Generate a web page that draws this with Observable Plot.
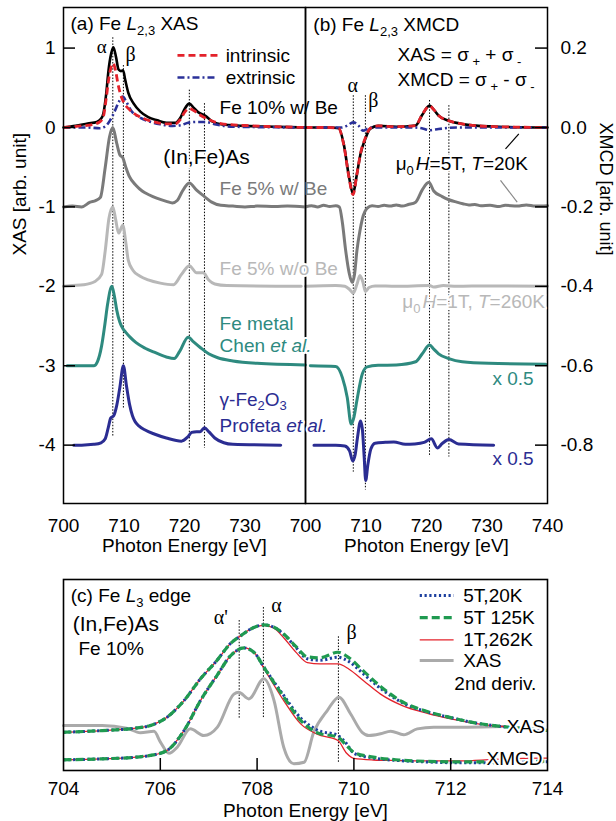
<!DOCTYPE html>
<html><head><meta charset="utf-8">
<script src="https://cdn.jsdelivr.net/npm/d3@7"></script>
<script src="https://cdn.jsdelivr.net/npm/@observablehq/plot@0.6"></script>
<style>
body{margin:0;background:#fff;}
#wrap{position:relative;width:616px;height:821px;background:#fff;overflow:hidden;}
#wrap > div{position:absolute;}
</style></head><body>
<div id="wrap"><div id="pb" style="left:305px;top:0"></div><div id="pa" style="left:0;top:0"></div><div id="pc" style="left:0;top:560px"></div></div>
<script>
// ---------------- tick labels ----------------
const xTicksA = [700, 710, 720, 730];
const xTicksB = [700, 710, 720, 730, 740];
const yTicksA = [1, 0, -1, -2, -3, -4];
const yTicksB = [0.2, 0, -0.2, -0.4, -0.6, -0.8];
const xTicksC = [704, 706, 708, 710, 712, 714];
const innerTicksC = [706, 708, 710, 712];

// ---------------- series offsets ----------------
const offsetsA = [0, -1, -2, -3, -4];
const offsetsB = [0, -0.2, -0.4, -0.6, -0.8];

// ---------------- (a) XAS spectra [eV, value above its baseline] ----------------
const xas10 = [[700,0],[702,0.02],[704,0.05],[705.5,0.07],[706.2,0.11],[706.6,0.18],[707.05,0.42],[707.44,0.72],[707.88,0.93],[708.25,1.01],[708.7,0.88],[709.1,0.73],[709.5,0.71],[709.85,0.72],[710.2,0.6],[710.7,0.44],[711.6,0.3],[712.7,0.2],[714,0.13],[715.5,0.09],[717,0.06],[718.5,0.06],[719.3,0.12],[720,0.23],[720.8,0.3],[721.5,0.25],[722.3,0.19],[723.4,0.15],[724.5,0.08],[726,0.04],[730,0.02],[735,0.01],[740,0]];
const xasIntr = [[700,0],[703,0.02],[705,0.04],[706,0.07],[706.6,0.14],[707.05,0.36],[707.5,0.62],[707.9,0.77],[708.2,0.81],[708.6,0.72],[709.0,0.55],[709.5,0.40],[710.0,0.31],[710.7,0.24],[711.6,0.18],[713,0.12],[715,0.07],[717,0.045],[718.5,0.045],[719.3,0.1],[720.1,0.2],[720.8,0.24],[721.6,0.21],[722.5,0.16],[724,0.1],[726,0.05],[730,0.025],[735,0.01],[740,0]];
const xasExtr = [[700,0],[704,0],[706,-0.01],[707,0.02],[707.7,0.09],[708.5,0.21],[709.2,0.33],[709.8,0.39],[710.4,0.32],[711.2,0.21],[712.3,0.14],[714,0.08],[716,0.04],[718,0.02],[719.5,0.03],[720.6,0.06],[722,0.07],[723.5,0.07],[725,0.04],[728,0.01],[740,0]];
const xas5Be = [[700,0],[701.5,0.01],[703,0],[704.4,0.06],[705.3,0.08],[706.1,0.12],[706.9,0.5],[707.6,0.88],[708.15,1.0],[708.8,0.8],[709.35,0.65],[709.8,0.62],[710.3,0.5],[710.9,0.38],[712,0.27],[713,0.2],[714.2,0.15],[715.4,0.11],[717,0.07],[718,0.05],[718.8,0.08],[719.6,0.19],[720.8,0.3],[722,0.21],[723.3,0.13],[724.5,0.06],[726,0.02],[728,0.01],[730,0],[732,0.01],[735,0.005],[737,0.01],[740,0]];
const xas5NoBe = [[700,0],[701.5,0.01],[703.3,0.02],[705.2,0.06],[706.3,0.15],[706.9,0.45],[707.5,0.85],[708.15,1.0],[708.6,0.85],[709.1,0.67],[709.8,0.77],[710.3,0.55],[710.7,0.33],[711.5,0.2],[712.6,0.13],[714,0.08],[716,0.04],[718.2,0.02],[719.5,0.15],[720.8,0.26],[722,0.17],[723.1,0.17],[724,0.08],[725,0.03],[727,0.01],[739.3,0]];
const xasMetal = [[700.6,0],[705,0],[705.6,0.05],[706.3,0.25],[706.8,0.5],[707.3,0.78],[708.0,1.0],[708.4,0.88],[708.8,0.7],[709.3,0.55],[709.8,0.47],[710.3,0.42],[711.0,0.36],[712.0,0.29],[713.5,0.22],[715,0.17],[717,0.11],[718.3,0.09],[719.2,0.18],[720.6,0.36],[721.5,0.3],[722.6,0.23],[724,0.15],[725.5,0.1],[728,0.06],[732,0.03],[740,0.01]];
const xasOxide = [[701.7,0],[703,0],[705,0.01],[706.2,0.03],[706.9,0.08],[707.4,0.22],[707.8,0.34],[708.3,0.37],[708.8,0.5],[709.3,0.72],[709.9,1.0],[710.4,0.75],[710.9,0.52],[711.4,0.37],[711.8,0.3],[712.5,0.24],[713.5,0.19],[715,0.14],[717,0.09],[719.5,0.05],[720.5,0.1],[721.2,0.16],[722,0.17],[722.6,0.17],[723.3,0.22],[724,0.17],[725,0.09],[726.5,0.03],[728,0.01],[735.9,0]];

// ---------------- (b) XMCD spectra ----------------
const mcd10 = [[700,0],[704,0],[705.5,-0.002],[706.3,-0.04],[707.2,-0.125],[707.85,-0.167],[708.5,-0.117],[709.1,-0.066],[709.9,-0.028],[710.7,-0.003],[712,0.004],[715,0.002],[718.2,0.005],[719.3,0.032],[720.5,0.055],[721.2,0.045],[722,0.03],[723.7,0.017],[725.9,0.009],[728.6,0.004],[732,0.002],[740,0]];
const mcdIntr = [[700,0],[704,0],[705.5,-0.003],[706.3,-0.042],[707.2,-0.127],[707.85,-0.169],[708.5,-0.118],[709.1,-0.065],[709.9,-0.026],[710.7,-0.002],[712,0.004],[715,0.002],[718.2,0.005],[719.3,0.033],[720.5,0.054],[721.2,0.045],[722,0.03],[723.7,0.017],[725.9,0.009],[728.6,0.004],[732,0.002],[740,0]];
const mcdExtr = [[700,0],[706,0],[706.8,0.004],[707.9,0.013],[708.8,0.004],[709.5,-0.008],[710.3,-0.003],[711,0],[718,0],[719.5,-0.003],[720.5,-0.007],[721.5,-0.005],[723,-0.002],[725,0],[740,0]];
const mcd5Be = [[700,0],[701,0.003],[702,0],[703,0.004],[704,0.001],[705,0.003],[705.6,0],[706.1,-0.04],[706.6,-0.105],[707.2,-0.165],[707.7,-0.19],[708.1,-0.17],[708.5,-0.11],[709.0,-0.06],[709.4,-0.03],[710.2,-0.003],[711,0.003],[712,0.001],[713,0.004],[714,0.002],[715,0.005],[716,0.002],[717,0.006],[718.2,0.012],[719.3,0.043],[720.4,0.062],[721.2,0.04],[722.6,0.026],[723.7,0.018],[725,0.012],[726,0.008],[727,0.005],[728,0.006],[729,0.003],[730.5,0.004],[732,0.001],[733,0.004],[735,0.002],[736.5,0.005],[738,0.002],[740,0.003]];
const mcd5NoBe = [[700,0],[705,0.002],[706.5,0],[707.3,-0.008],[707.9,-0.017],[708.5,0.005],[709.0,0.027],[709.5,0.01],[709.9,-0.013],[710.5,-0.003],[711.5,0.001],[715,0],[720.5,0.002],[721.2,-0.002],[722.8,0.002],[725,0],[730,0.001],[740,0]];
const mcdMetal = [[700.8,0],[705,-0.002],[706.1,-0.03],[706.9,-0.08],[707.55,-0.147],[708.0,-0.13],[708.5,-0.087],[709.4,-0.02],[710.2,-0.003],[712,0.001],[715,0.002],[718.2,0.01],[719.3,0.03],[720.5,0.052],[721.2,0.042],[722,0.03],[723.7,0.018],[725.9,0.01],[730.3,0.006],[739.7,0.004]];
const mcdOxide = [[701.4,0],[705,0],[706.5,-0.002],[707.3,-0.015],[707.8,-0.04],[708.2,-0.025],[708.6,0.02],[709.1,0.061],[709.4,0.04],[709.7,-0.03],[709.95,-0.089],[710.3,-0.05],[710.8,-0.01],[711.5,0.005],[713.2,0.007],[714.6,0.008],[716.5,0.002],[718,0.003],[719.6,0.007],[720.8,0.016],[721.8,-0.007],[722.6,0.004],[723.7,0.014],[725.3,0.003],[731.1,0]];

// ---------------- (c) Fe L3 edge, normalised ----------------
const eUp = [704,704.8,705.5,705.8,706.14,706.49,706.83,707.17,707.45,707.66,707.9,708.14,708.35,708.55,708.8,709.04,709.3,709.67,709.9,710.2,710.55,711.0,711.5,712.0,712.6,713.0,713.5,714];
const up125K = [0.200,0.209,0.222,0.236,0.279,0.366,0.48,0.576,0.665,0.705,0.745,0.762,0.75,0.715,0.65,0.595,0.59,0.619,0.59,0.52,0.44,0.36,0.31,0.277,0.245,0.232,0.22,0.21];
const up20K  = [0.200,0.209,0.222,0.236,0.279,0.366,0.48,0.576,0.665,0.705,0.745,0.762,0.75,0.713,0.645,0.585,0.577,0.593,0.57,0.505,0.43,0.355,0.308,0.277,0.245,0.232,0.22,0.21];
const up262K = [0.200,0.209,0.222,0.236,0.279,0.366,0.48,0.576,0.665,0.705,0.745,0.76,0.745,0.695,0.62,0.565,0.558,0.558,0.53,0.47,0.40,0.34,0.30,0.27,0.243,0.232,0.22,0.21];
const eLow = [704,704.8,705.5,705.8,706.14,706.49,706.83,707.17,707.45,707.73,707.95,708.14,708.55,708.9,709.24,709.67,709.85,710.0,710.4,710.93,711.5,712.2,712.9,713.5,714];
const low125K = [0.056,0.061,0.07,0.079,0.105,0.209,0.366,0.497,0.60,0.642,0.615,0.541,0.385,0.262,0.198,0.174,0.13,0.095,0.07,0.055,0.048,0.045,0.045,0.047,0.05];
const low20K  = [0.056,0.061,0.07,0.079,0.105,0.209,0.366,0.497,0.60,0.642,0.615,0.541,0.393,0.275,0.212,0.183,0.14,0.09,0.065,0.052,0.045,0.04,0.04,0.043,0.046];
const low262K = [0.056,0.061,0.07,0.079,0.105,0.209,0.366,0.497,0.60,0.642,0.615,0.535,0.366,0.244,0.19,0.157,0.09,0.063,0.055,0.052,0.05,0.05,0.058,0.063,0.065];
const eDeriv = [704,704.8,705.3,705.59,705.87,706.0,706.18,706.35,706.62,706.9,707.18,707.52,707.62,707.83,708.14,708.35,708.55,708.76,708.97,709.17,709.45,709.69,709.93,710.17,710.31,710.55,710.76,711.03,711.31,711.65,712.34,713.1];
const deriv2 = [0.236,0.236,0.222,0.198,0.205,0.15,0.09,0.122,0.218,0.183,0.227,0.40,0.41,0.375,0.48,0.366,0.122,0.035,0.043,0.2,0.314,0.384,0.297,0.2,0.183,0.192,0.206,0.187,0.218,0.227,0.227,0.23];
const legendC = ["5T,20K", "5T 125K", "1T,262K", "XAS"];

// ---------------- reference energies (dotted lines) ----------------
const dotsA = [708.15, 709.9, 720.8, 723.3], dotsATop = [1.13, 0.78, 0.47, 0.30], dotsABot = [-3.89, -3.54, -4.04, -4.04];
const dotsB = [707.9, 709.9, 720.5, 723.7], dotsBTop = [0.08, 0.08, 0.068, 0.055], dotsBBot = [-0.868, -0.913, -0.83, -0.83];
const dotsC = [707.63, 708.13, 709.68], dotsCTop = [0.785, 0.853, 0.70], dotsCBot = [0.272, 0.272, 0.04];

// ---------------- styling ----------------
const sans = "Liberation Sans, Arial, Helvetica, sans-serif";
const serif = "Liberation Serif, Times New Roman, serif";
const C = {black:"#000", red:"#e3222b", blue:"#2a3199", dark:"#7a7a7a", light:"#b8b8b8", teal:"#2e8a7f", navy:"#2b2d92", green:"#1f9a50", dot:"#1c3f9e", gray:"#aaaaaa"};
const baseStyle = {fontFamily: sans, fontSize: "19px", overflow: "visible", background: "transparent", color: "black"};

const rich = {
  "(a) Fe L2,3 XAS": '(a) Fe <tspan font-style="italic">L</tspan><tspan font-size="13" dy="5">2,3</tspan><tspan dy="-5"> XAS</tspan>',
  "(b) Fe L2,3 XMCD": '(b) Fe <tspan font-style="italic">L</tspan><tspan font-size="13" dy="5">2,3</tspan><tspan dy="-5"> XMCD</tspan>',
  "(c) Fe L3 edge": '(c) Fe <tspan font-style="italic">L</tspan><tspan font-size="13" dy="5">3</tspan><tspan dy="-5"> edge</tspan>',
  "XAS = σ+ + σ-": 'XAS = σ<tspan font-size="13" dy="5"> +</tspan><tspan dy="-5"> + σ</tspan><tspan font-size="13" dy="5"> -</tspan>',
  "XMCD = σ+ - σ-": 'XMCD = σ<tspan font-size="13" dy="5"> +</tspan><tspan dy="-5"> - σ</tspan><tspan font-size="13" dy="5"> -</tspan>',
  "μ0H=5T, T=20K": 'μ<tspan font-size="13" dy="5">0</tspan><tspan dy="-5" dx="2" font-style="italic">H</tspan>=5T, <tspan font-style="italic">T</tspan>=20K',
  "μ0H=1T, T=260K": 'μ<tspan font-size="13" dy="5">0</tspan><tspan dy="-5" dx="2" font-style="italic">H</tspan>=1T, <tspan font-style="italic">T</tspan>=260K',
  "γ-Fe2O3": 'γ-Fe<tspan font-size="13" dy="4">2</tspan><tspan dy="-4">O</tspan><tspan font-size="13" dy="4">3</tspan>',
  "Chen et al.": 'Chen <tspan font-style="italic">et al.</tspan>',
  "Profeta et al.": 'Profeta <tspan font-style="italic">et al.</tspan>'
};

function ln(data, off, stroke, w, dash) {
  return Plot.line(data, {x: d => d[0], y: d => d[1] + off, stroke, strokeWidth: w,
    strokeDasharray: dash, curve: "monotone-x", strokeLinejoin: "round", strokeLinecap: dash ? "butt" : "round"});
}
function lnXY(xs, ys, stroke, w, dash, cap) {
  return Plot.line(xs, {x: d => d, y: (d, i) => ys[i], stroke, strokeWidth: w, strokeDasharray: dash,
    curve: "monotone-x", strokeLinejoin: "round", strokeLinecap: cap || "butt"});
}
// a text annotation; a white halo knocks out the lines behind it where needed
function ann(list) {
  return list.map(a => Plot.text([a.t], {x: a.x, y: a.y, text: d => d, textAnchor: a.anchor || "start",
    lineAnchor: "middle", fontSize: a.size || 19, fontFamily: a.font || sans, fill: a.fill || "black",
    stroke: a.halo ? "white" : undefined, strokeWidth: a.halo ? 4 : undefined}));
}
function dotted(xs, tops, bots) {
  return Plot.ruleX(xs, {x: d => d, y1: (d, i) => tops[i], y2: (d, i) => bots[i], stroke: "black", strokeWidth: 1, strokeDasharray: "1.5,1.6"});
}
function enrich(svg) {
  svg.querySelectorAll("text").forEach(t => { const r = rich[t.textContent]; if (r) t.innerHTML = r; });
  return svg;
}

// ---------------- panel (a) ----------------
const plotA = Plot.plot({
  width: 306, height: 560, marginLeft: 63, marginRight: 1, marginTop: 7, marginBottom: 57,
  style: baseStyle,
  x: {domain: [700, 740]}, y: {domain: [-4.735, 1.511]},
  marks: [
    dotted(dotsA, dotsATop, dotsABot),
    ln(xasOxide, offsetsA[4], C.navy, 3),
    ln(xasMetal, offsetsA[3], C.teal, 3),
    ln(xas5NoBe, offsetsA[2], C.light, 3),
    ln(xas5Be, offsetsA[1], C.dark, 3),
    ln(xas10, offsetsA[0], C.black, 2.6),
    ln(xasExtr, offsetsA[0], C.blue, 2.6, "7,3,2,3"),
    ln(xasIntr, offsetsA[0], C.red, 2.8, "7,4"),
    Plot.frame({stroke: "black", strokeWidth: 1.5}),
    Plot.ruleY(yTicksA, {y: d => d, insetRight: 230, stroke: "black", strokeWidth: 1.5}),
    Plot.axisX(xTicksA, {anchor: "bottom", tickSize: 0, tickPadding: 15, fontSize: 19, label: null}),
    Plot.axisY(yTicksA, {anchor: "left", tickSize: 0, tickPadding: 8, fontSize: 19, tickFormat: d => String(d), label: null}),
    Plot.text(["Photon Energy [eV]"], {text: d => d, frameAnchor: "bottom", dy: 42, lineAnchor: "middle", fontSize: 19}),
    Plot.text(["XAS [arb. unit]"], {text: d => d, frameAnchor: "left", dx: -44, rotate: -90, lineAnchor: "middle", fontSize: 19}),
    Plot.link([0], {x1: 718.84, x2: 725.45, y1: 0.907, y2: 0.907, stroke: C.red, strokeWidth: 2.8, strokeDasharray: "7,4"}),
    Plot.link([0], {x1: 718.84, x2: 725.45, y1: 0.63, y2: 0.63, stroke: C.blue, strokeWidth: 2.6, strokeDasharray: "7,3,2,3"}),
    ...ann([
      {t: "(a) Fe L2,3 XAS", x: 701.16, y: 1.30},
      {t: "α", x: 706.3, y: 1.02, anchor: "middle", font: serif, size: 19},
      {t: "β", x: 711.07, y: 0.92, anchor: "middle", font: serif, size: 20},
      {t: "intrinsic", x: 726.8, y: 0.907},
      {t: "extrinsic", x: 726.8, y: 0.63},
      {t: "Fe 10% w/ Be", x: 725.8, y: 0.252},
      {t: "(In,Fe)As", x: 716.5, y: -0.378, size: 21, halo: true},
      {t: "Fe 5% w/ Be", x: 725.8, y: -0.769, fill: C.dark},
      {t: "Fe 5% w/o Be", x: 725.8, y: -1.777, fill: C.light, halo: true},
      {t: "Fe metal", x: 725.8, y: -2.47, fill: C.teal},
      {t: "Chen et al.", x: 725.8, y: -2.747, fill: C.teal, halo: true},
      {t: "γ-Fe2O3", x: 725.8, y: -3.43, fill: C.navy},
      {t: "Profeta et al.", x: 725.8, y: -3.76, fill: C.navy, halo: true}
    ])
  ]
});

// ---------------- panel (b) ----------------
const plotB = Plot.plot({
  width: 311, height: 560, marginLeft: 0, marginRight: 69, marginTop: 7, marginBottom: 57,
  style: baseStyle,
  x: {domain: [700, 740]}, y: {domain: [-0.947, 0.3022]},
  marks: [
    dotted(dotsB, dotsBTop, dotsBBot),
    ln(mcdOxide, offsetsB[4], C.navy, 3),
    ln(mcdMetal, offsetsB[3], C.teal, 3),
    ln(mcd5NoBe, offsetsB[2], C.light, 3),
    ln(mcd5Be, offsetsB[1], C.dark, 3),
    ln(mcd10, offsetsB[0], C.black, 2.6),
    ln(mcdExtr, offsetsB[0], C.blue, 2.6, "7,3,2,3"),
    ln(mcdIntr, offsetsB[0], C.red, 2.8, "7,4"),
    Plot.frame({stroke: "black", strokeWidth: 1.5}),
    Plot.ruleY(yTicksB, {y: d => d, insetLeft: 230, stroke: "black", strokeWidth: 1.5}),
    Plot.axisX(xTicksB, {anchor: "bottom", tickSize: 0, tickPadding: 15, fontSize: 19, label: null}),
    Plot.axisY(yTicksB, {anchor: "right", tickSize: 0, tickPadding: 13, fontSize: 19, tickFormat: d => d.toFixed(1), label: null}),
    Plot.text(["Photon Energy [eV]"], {text: d => d, frameAnchor: "bottom", dy: 42, lineAnchor: "middle", fontSize: 19}),
    Plot.text(["XMCD [arb. unit]"], {text: d => d, frameAnchor: "right", dx: 58, rotate: 90, lineAnchor: "middle", fontSize: 18}),
    Plot.link([0], {x1: 733.06, x2: 735.26, y1: -0.054, y2: -0.016, stroke: "black", strokeWidth: 1.2}),
    Plot.link([0], {x1: 732.23, x2: 734.99, y1: -0.133, y2: -0.188, stroke: "#888", strokeWidth: 1.2}),
    ...ann([
      {t: "(b) Fe L2,3 XMCD", x: 701.3, y: 0.259},
      {t: "XAS = σ+ + σ-", x: 715.2, y: 0.184},
      {t: "XMCD = σ+ - σ-", x: 715.2, y: 0.121},
      {t: "α", x: 707.8, y: 0.106, anchor: "middle", font: serif, size: 20},
      {t: "β", x: 711.2, y: 0.068, anchor: "middle", font: serif, size: 20},
      {t: "μ0H=5T, T=20K", x: 714.9, y: -0.091, halo: true},
      {t: "μ0H=1T, T=260K", x: 716.0, y: -0.44, fill: C.light, halo: true},
      {t: "x 0.5", x: 730.9, y: -0.632, fill: C.teal},
      {t: "x 0.5", x: 730.9, y: -0.835, fill: C.navy}
    ])
  ]
});

// ---------------- panel (c) ----------------
const legendY = [0.916, 0.80, 0.684, 0.576];
const legendStyle = [
  {stroke: C.dot, w: 3, dash: "2.2,2.6"},
  {stroke: C.green, w: 3.2, dash: "8,4"},
  {stroke: C.red, w: 1.3, dash: null},
  {stroke: C.gray, w: 3, dash: null}
];
const plotC = Plot.plot({
  width: 616, height: 261, marginLeft: 63, marginRight: 69, marginTop: 19, marginBottom: 51,
  style: baseStyle,
  x: {domain: [704, 714]}, y: {domain: [0, 1], axis: null},
  marks: [
    dotted(dotsC, dotsCTop, dotsCBot),
    lnXY(eDeriv, deriv2, C.gray, 3, null, "round"),
    lnXY(eUp, up262K, C.red, 1.3),
    lnXY(eLow, low262K, C.red, 1.3),
    lnXY(eUp, up20K, C.dot, 3, "2.2,2.6"),
    lnXY(eLow, low20K, C.dot, 3, "2.2,2.6"),
    lnXY(eUp, up125K, C.green, 3.2, "8,4"),
    lnXY(eLow, low125K, C.green, 3.2, "8,4"),
    Plot.frame({stroke: "black", strokeWidth: 1.6}),
    Plot.ruleX(innerTicksC, {x: d => d, insetTop: 179, stroke: "black", strokeWidth: 1.5}),
    Plot.axisX(xTicksC, {anchor: "bottom", tickSize: 0, tickPadding: 11, fontSize: 19, label: null}),
    Plot.text(["Photon Energy [eV]"], {text: d => d, frameAnchor: "bottom", dy: 40, lineAnchor: "middle", fontSize: 19}),
    ...legendC.map((k, i) => Plot.link([k], {x1: 711.36, x2: 712.06, y1: legendY[i], y2: legendY[i],
      stroke: legendStyle[i].stroke, strokeWidth: legendStyle[i].w, strokeDasharray: legendStyle[i].dash})),
    Plot.text(legendC, {text: d => d, x: 712.26, y: (d, i) => legendY[i], textAnchor: "start", lineAnchor: "middle", fontSize: 19}),
    ...ann([
      {t: "(c) Fe L3 edge", x: 704.15, y: 0.916},
      {t: "(In,Fe)As", x: 704.19, y: 0.765, size: 21},
      {t: "Fe 10%", x: 704.31, y: 0.638},
      {t: "α'", x: 707.25, y: 0.80, anchor: "middle", font: serif, size: 20},
      {t: "α", x: 708.4, y: 0.862, anchor: "middle", font: serif, size: 20},
      {t: "β", x: 709.95, y: 0.724, anchor: "middle", font: serif, size: 20},
      {t: "2nd deriv.", x: 713.77, y: 0.455, anchor: "end"},
      {t: "XAS", x: 713.16, y: 0.227, halo: true},
      {t: "XMCD", x: 712.74, y: 0.062, halo: true}
    ])
  ]
});

document.getElementById("pb").appendChild(enrich(plotB));
document.getElementById("pa").appendChild(enrich(plotA));
document.getElementById("pc").appendChild(enrich(plotC));
</script>
</body></html>
